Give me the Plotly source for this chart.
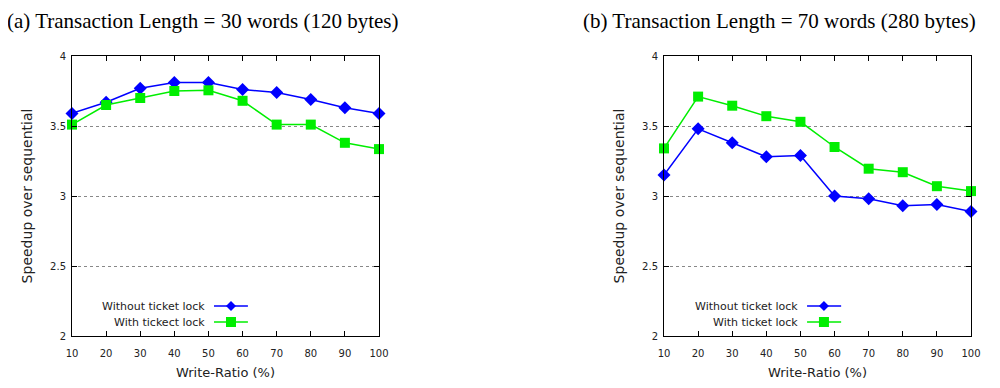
import plotly.graph_objects as go

write_ratio = [10, 20, 30, 40, 50, 60, 70, 80, 90, 100]

# (a) Transaction Length = 30 words
a_without = [3.59, 3.67, 3.77, 3.81, 3.81, 3.76, 3.74, 3.69, 3.63, 3.59]
a_with = [3.51, 3.65, 3.70, 3.75, 3.755, 3.68, 3.51, 3.51, 3.38, 3.335]

# (b) Transaction Length = 70 words
b_without = [3.15, 3.48, 3.38, 3.28, 3.29, 3.00, 2.98, 2.93, 2.94, 2.89]
b_with = [3.34, 3.71, 3.645, 3.57, 3.53, 3.35, 3.195, 3.17, 3.07, 3.035]

titles = ["(a) Transaction Length = 30 words (120 bytes)",
          "(b) Transaction Length = 70 words (280 bytes)"]
legend_a = ["Without ticket lock", "With tickect lock"]
legend_b = ["Without ticket lock", "With ticket lock"]
y_ticks = [2, 2.5, 3, 3.5, 4]
y_tick_text = ["2", "2.5", "3", "3.5", "4"]

BLUE = "#0000ff"
GREEN = "#00ee00"
FONT = "DejaVu Sans"
TXT = "#222222"

# page body has an 8px margin: figure sized so it fits the 1000x388 window
OFF = 8
W, H = 1000 - 2 * OFF, 388 - 2 * OFF


def px_x(p):
    return (p - OFF) / W


def px_y(p):
    return 1 - (p - OFF) / H


fig = go.Figure()

panels = [
    ("x", "y", a_without, a_with, legend_a),
    ("x2", "y2", b_without, b_with, legend_b),
]

for xa, ya, s_without, s_with, names in panels:
    fig.add_trace(go.Scatter(x=write_ratio, y=s_without, xaxis=xa, yaxis=ya,
                             mode="lines+markers", name=names[0], showlegend=False,
                             cliponaxis=False,
                             line=dict(color=BLUE, width=1.5),
                             marker=dict(symbol="diamond", size=10, color=BLUE)))
    fig.add_trace(go.Scatter(x=write_ratio, y=s_with, xaxis=xa, yaxis=ya,
                             mode="lines+markers", name=names[1], showlegend=False,
                             cliponaxis=False,
                             line=dict(color=GREEN, width=1.5),
                             marker=dict(symbol="square", size=10, color=GREEN)))

axis_common = dict(showline=True, linecolor="black", linewidth=1, mirror="ticks",
                   ticks="inside", ticklen=5, tickcolor="black", automargin=False,
                   tickfont=dict(family=FONT, size=10, color=TXT),
                   zeroline=False)

xcommon = dict(axis_common, range=[10, 100], tickvals=write_ratio, showgrid=False,
               ticklabelstandoff=8,
               title=dict(text="Write-Ratio (%)", font=dict(family=FONT, size=13, color=TXT),
                          standoff=17))
ycommon = dict(axis_common, range=[2, 4], tickvals=y_ticks, ticktext=y_tick_text,
               ticklabelstandoff=3,
               showgrid=True, gridcolor="#888", griddash="dot", gridwidth=1,
               title=dict(text="Speedup over sequential", font=dict(family=FONT, size=14, color=TXT),
                          standoff=14))

ydom = [px_y(336), px_y(56)]
fig.update_layout(
    template="none",
    width=W, height=H,
    margin=dict(l=0, r=0, t=0, b=0, autoexpand=False),
    paper_bgcolor="white", plot_bgcolor="white",
    xaxis=dict(xcommon, domain=[px_x(72), px_x(379)], anchor="y"),
    yaxis=dict(ycommon, domain=ydom, anchor="x"),
    xaxis2=dict(xcommon, domain=[px_x(664), px_x(971)], anchor="y2"),
    yaxis2=dict(ycommon, domain=ydom, anchor="x2"),
)

# titles
for text, x0 in zip(titles, [6, 582]):
    fig.add_annotation(text=text, xref="paper", yref="paper", x=px_x(x0), y=1,
                       xanchor="left", yanchor="top", showarrow=False, borderpad=0,
                       font=dict(family="Liberation Serif", size=21, color="black"))

# gnuplot-style legends (text, then line sample with marker)
for xa, ya, names, tx, lx0, lx1, mx in [
    ("x", "y", legend_a, 0.440, 0.4625, 0.573, 0.518),
    ("x2", "y2", legend_b, 0.443, 0.466, 0.577, 0.521),
]:
    xr = xa + " domain"
    yr = ya + " domain"
    for i, (name, color, sym) in enumerate(zip(names, [BLUE, GREEN], ["diamond", "square"])):
        yy = 0.107 - i * 0.057
        fig.add_annotation(text=name, xref=xr, yref=yr, x=tx, y=yy, xanchor="right",
                           yanchor="middle", showarrow=False,
                           font=dict(family=FONT, size=11, color=TXT))
        fig.add_shape(type="line", xref=xr, yref=yr, x0=lx0, x1=lx1, y0=yy, y1=yy,
                      line=dict(color=color, width=1.5))
        if sym == "diamond":
            fig.add_shape(type="path", xref=xr, yref=yr, xsizemode="pixel", ysizemode="pixel",
                          xanchor=mx, yanchor=yy, path="M 0,5 L 5,0 L 0,-5 L -5,0 Z",
                          fillcolor=color, line=dict(color=color, width=0))
        else:
            fig.add_shape(type="rect", xref=xr, yref=yr, xsizemode="pixel", ysizemode="pixel",
                          xanchor=mx, yanchor=yy, x0=-5, x1=5, y0=-5, y1=5,
                          fillcolor=color, line=dict(color=color, width=0))

fig.write_html("out.html")
